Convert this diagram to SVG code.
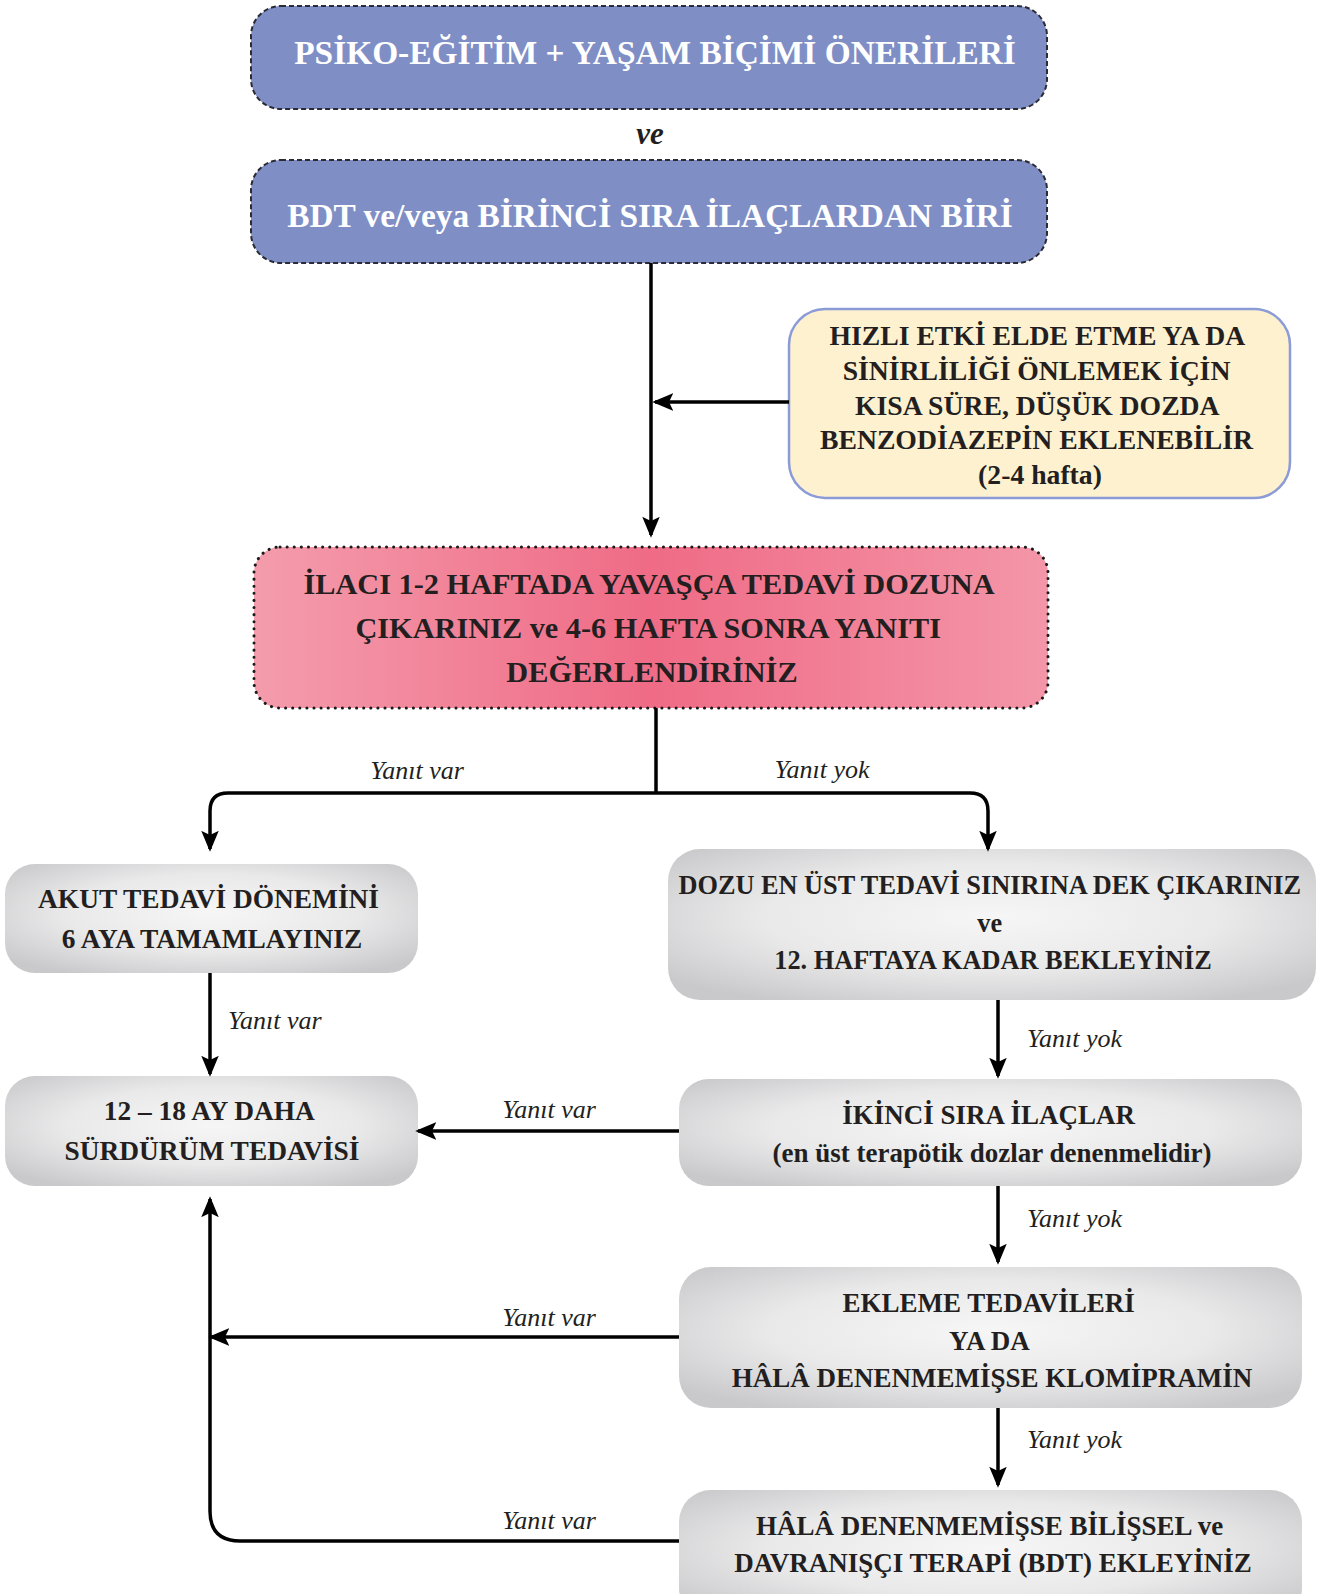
<svg xmlns="http://www.w3.org/2000/svg" width="1326" height="1594" viewBox="0 0 1326 1594">
<defs>
<style>
.t{font-family:"Liberation Serif","Times New Roman",serif;font-weight:bold;fill:#231f20;text-anchor:middle}
.w{fill:#ffffff}
.lbl{font-family:"Liberation Serif","Times New Roman",serif;font-style:italic;font-size:26px;fill:#231f20}
.blue{fill:#7f8fc6;stroke:#2b2b33;stroke-width:2;stroke-dasharray:5 3}
.gray{fill:url(#gg)}
.ln{fill:none;stroke:#000;stroke-width:3.5}
</style>
<radialGradient id="gg" cx="50%" cy="45%" r="65%">
<stop offset="0" stop-color="#f6f6f7"/>
<stop offset="0.55" stop-color="#e9e9ea"/>
<stop offset="1" stop-color="#c9c9cb"/>
</radialGradient>
<linearGradient id="pg" x1="0" y1="0" x2="1" y2="0">
<stop offset="0" stop-color="#f49cac"/>
<stop offset="0.5" stop-color="#ef6b86"/>
<stop offset="1" stop-color="#f496a8"/>
</linearGradient>
<marker id="ah" markerWidth="6" markerHeight="5" refX="5.2" refY="2.5" orient="auto" markerUnits="strokeWidth">
<path d="M0,0 L6,2.5 L0,5 L1.2,2.5 Z" fill="#000"/>
</marker>
</defs>

<g id="n1">
<rect class="blue" x="251" y="6" width="796" height="103" rx="30"/>
<text class="t w" x="655" y="64" font-size="33.4">PSİKO-EĞİTİM + YAŞAM BİÇİMİ ÖNERİLERİ</text>
</g>
<g id="ve">
<text x="650" y="144" font-family="Liberation Serif, serif" font-weight="bold" font-style="italic" font-size="31" fill="#231f20" text-anchor="middle">ve</text>
</g>
<g id="n2">
<rect class="blue" x="251" y="160" width="796" height="103" rx="30"/>
<text class="t w" x="650" y="227" font-size="33.4">BDT ve/veya BİRİNCİ SIRA İLAÇLARDAN BİRİ</text>
</g>
<g id="n3">
<rect x="789" y="309" width="501" height="189" rx="36" fill="#fdf1d0" stroke="#8b9bd6" stroke-width="2.5"/>
<text class="t" font-size="27.7" x="1040">
<tspan x="1040" y="345">HIZLI ETKİ ELDE ETME YA DA</tspan>
<tspan x="1040" y="380">SİNİRLİLİĞİ ÖNLEMEK İÇİN</tspan>
<tspan x="1040" y="415">KISA SÜRE, DÜŞÜK DOZDA</tspan>
<tspan x="1040" y="449">BENZODİAZEPİN EKLENEBİLİR</tspan>
<tspan x="1040" y="484">(2-4 hafta)</tspan>
</text>
</g>
<g id="n4">
<rect x="254" y="547" width="794" height="161" rx="26" fill="url(#pg)" stroke="#1a1a1a" stroke-width="3" stroke-dasharray="0.1 7" stroke-linecap="round"/>
<text class="t" font-size="30.3">
<tspan x="652" y="594">İLACI 1-2 HAFTADA YAVAŞÇA TEDAVİ DOZUNA</tspan>
<tspan x="652" y="638">ÇIKARINIZ ve 4-6 HAFTA SONRA YANITI</tspan>
<tspan x="652" y="682">DEĞERLENDİRİNİZ</tspan>
</text>
</g>
<g id="n5">
<rect class="gray" x="5" y="864" width="413" height="109" rx="30"/>
<text class="t" font-size="27.4">
<tspan x="212" y="908">AKUT TEDAVİ DÖNEMİNİ</tspan>
<tspan x="212" y="948">6 AYA TAMAMLAYINIZ</tspan>
</text>
</g>
<g id="n6">
<rect class="gray" x="668" y="849" width="648" height="151" rx="32"/>
<text class="t" font-size="26.3">
<tspan x="993" y="894">DOZU EN ÜST TEDAVİ SINIRINA DEK ÇIKARINIZ</tspan>
<tspan x="993" y="932">ve</tspan>
<tspan x="993" y="969">12. HAFTAYA KADAR BEKLEYİNİZ</tspan>
</text>
</g>
<g id="n7">
<rect class="gray" x="5" y="1076" width="413" height="110" rx="30"/>
<text class="t" font-size="27.4">
<tspan x="212" y="1120">12 – 18 AY DAHA</tspan>
<tspan x="212" y="1160">SÜRDÜRÜM TEDAVİSİ</tspan>
</text>
</g>
<g id="n8">
<rect class="gray" x="679" y="1079" width="623" height="107" rx="30"/>
<text class="t" font-size="27">
<tspan x="992" y="1124">İKİNCİ SIRA İLAÇLAR</tspan>
<tspan x="992" y="1162">(en üst terapötik dozlar denenmelidir)</tspan>
</text>
</g>
<g id="n9">
<rect class="gray" x="679" y="1267" width="623" height="141" rx="32"/>
<text class="t" font-size="27">
<tspan x="992" y="1312">EKLEME TEDAVİLERİ</tspan>
<tspan x="992" y="1350">YA DA</tspan>
<tspan x="992" y="1387">HÂLÂ DENENMEMİŞSE KLOMİPRAMİN</tspan>
</text>
</g>
<g id="n10">
<rect class="gray" x="679" y="1490" width="623" height="130" rx="32"/>
<text class="t" font-size="27">
<tspan x="993" y="1535">HÂLÂ DENENMEMİŞSE BİLİŞSEL ve</tspan>
<tspan x="993" y="1572">DAVRANIŞÇI TERAPİ (BDT) EKLEYİNİZ</tspan>
</text>
</g>

<g id="connectors">
<line class="ln" x1="651" y1="263" x2="651" y2="535" marker-end="url(#ah)"/>
<line class="ln" x1="789" y1="402" x2="655" y2="402" marker-end="url(#ah)"/>
<line class="ln" x1="656" y1="708" x2="656" y2="793"/>
<path class="ln" d="M656,793 H228 Q210,793 210,811 V849" marker-end="url(#ah)"/>
<path class="ln" d="M656,793 H970 Q988,793 988,811 V849" marker-end="url(#ah)"/>
<line class="ln" x1="210" y1="973" x2="210" y2="1074" marker-end="url(#ah)"/>
<line class="ln" x1="998" y1="1000" x2="998" y2="1076" marker-end="url(#ah)"/>
<line class="ln" x1="679" y1="1131" x2="418" y2="1131" marker-end="url(#ah)"/>
<line class="ln" x1="998" y1="1186" x2="998" y2="1262" marker-end="url(#ah)"/>
<line class="ln" x1="679" y1="1337" x2="211" y2="1337" marker-end="url(#ah)"/>
<line class="ln" x1="998" y1="1408" x2="998" y2="1485" marker-end="url(#ah)"/>
<path class="ln" d="M679,1541 H240 Q210,1541 210,1511 V1199" marker-end="url(#ah)"/>
<text class="lbl" x="417" y="779" text-anchor="middle">Yanıt var</text>
<text class="lbl" x="822" y="778" text-anchor="middle">Yanıt yok</text>
<text class="lbl" x="228" y="1029">Yanıt var</text>
<text class="lbl" x="1027" y="1047">Yanıt yok</text>
<text class="lbl" x="549" y="1118" text-anchor="middle">Yanıt var</text>
<text class="lbl" x="1027" y="1227">Yanıt yok</text>
<text class="lbl" x="549" y="1326" text-anchor="middle">Yanıt var</text>
<text class="lbl" x="1027" y="1448">Yanıt yok</text>
<text class="lbl" x="549" y="1529" text-anchor="middle">Yanıt var</text>
</g>
</svg>
